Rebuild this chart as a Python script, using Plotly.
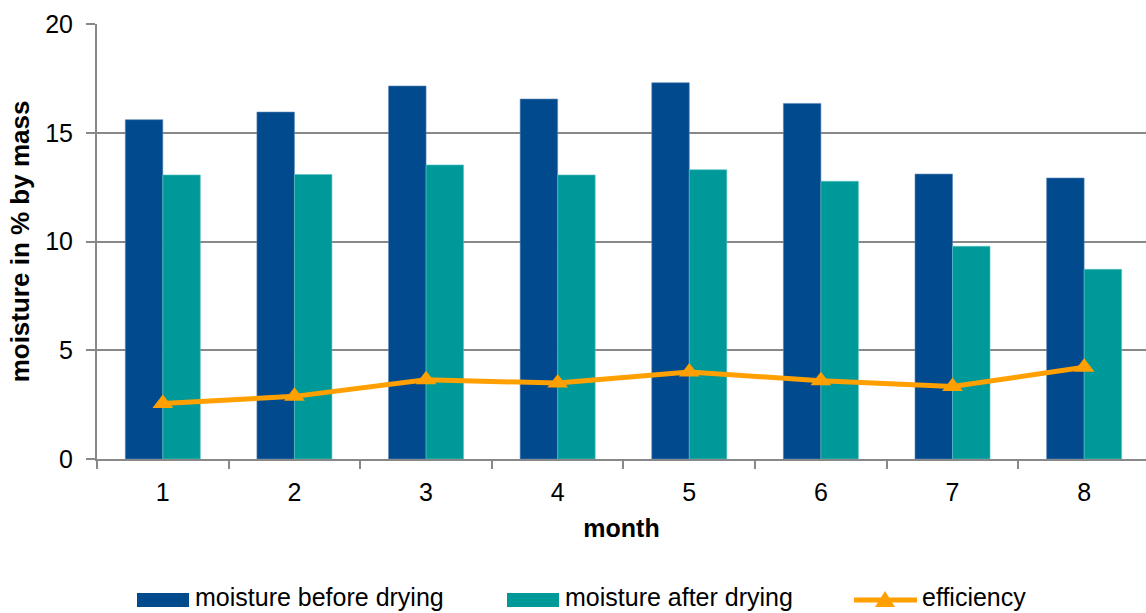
import plotly.graph_objects as go

months = ["1", "2", "3", "4", "5", "6", "7", "8"]
moisture_before = [15.6, 15.95, 17.15, 16.55, 17.3, 16.35, 13.1, 12.92]
moisture_after = [13.06, 13.08, 13.52, 13.06, 13.3, 12.77, 9.78, 8.72]
efficiency = [2.55, 2.88, 3.64, 3.49, 4.0, 3.6, 3.33, 4.22]

BLUE = "#004A8D"
TEAL = "#009999"
ORANGE = "#FFA000"
GRID = "#888888"
FONT = "Liberation Sans, Arial, sans-serif"
FS = 25

W, H = 1146, 613
L, R, T, B = 97, 0, 24, 154

fig = go.Figure()
fig.add_trace(go.Bar(x=months, y=moisture_before, name="moisture before drying",
                     marker=dict(color=BLUE, line=dict(color="#5b86b8", width=0.6))))
fig.add_trace(go.Bar(x=months, y=moisture_after, name="moisture after drying",
                     marker=dict(color=TEAL, line=dict(color="#5cc4c4", width=0.6))))
fig.add_trace(go.Scatter(x=months, y=efficiency, name="efficiency", mode="lines+markers",
                         line=dict(color=ORANGE, width=5),
                         marker=dict(symbol="triangle-up", size=18, color=ORANGE)))

fig.update_layout(
    width=W, height=H,
    margin=dict(l=L, r=R, t=T, b=B, pad=0),
    paper_bgcolor="white", plot_bgcolor="white",
    barmode="group", bargap=0.43, bargroupgap=0,
    showlegend=False,
    font=dict(family=FONT, size=FS, color="#000000"),
)

fig.update_xaxes(
    type="category", range=[-0.5, 7.47],
    showline=True, linecolor=GRID, linewidth=2,
    ticks="outside", tickson="boundaries", ticklen=8, tickwidth=2, tickcolor=GRID,
    ticklabelstandoff=10,
    showgrid=False,
    tickfont=dict(size=FS),
    title=dict(text="<b>month</b>", font=dict(size=FS), standoff=14),
)
fig.update_yaxes(
    range=[0, 20], tickvals=[0, 5, 10, 15, 20],
    showline=True, linecolor=GRID, linewidth=2,
    ticks="outside", ticklen=9, tickwidth=2, tickcolor=GRID,
    ticklabelstandoff=8,
    showgrid=True, gridcolor=GRID, gridwidth=2,
    zeroline=False,
    tickfont=dict(size=FS),
    title=dict(text="<b>moisture in % by mass</b>", font=dict(size=26), standoff=8),
)

# hand-built legend row below the chart
pw = W - L - R
ph = H - T - B


def px_x(px):
    return (px - L) / pw


def px_y(py):
    return (H - B - py) / ph


legend_y = 600
shapes = [
    dict(type="rect", xref="paper", yref="paper",
         x0=px_x(137), x1=px_x(189), y0=px_y(607), y1=px_y(593),
         fillcolor=BLUE, line=dict(width=0)),
    dict(type="rect", xref="paper", yref="paper",
         x0=px_x(507), x1=px_x(559), y0=px_y(607), y1=px_y(593),
         fillcolor=TEAL, line=dict(width=0)),
    dict(type="line", xref="paper", yref="paper",
         x0=px_x(854), x1=px_x(917), y0=px_y(legend_y), y1=px_y(legend_y),
         line=dict(color=ORANGE, width=5)),
    dict(type="path", xref="paper", yref="paper",
         path="M {} {} L {} {} L {} {} Z".format(
             px_x(875), px_y(607), px_x(895), px_y(607), px_x(885), px_y(591)),
         fillcolor=ORANGE, line=dict(width=0)),
]
labels = [(194, "moisture before drying"), (564, "moisture after drying"), (921, "efficiency")]
annotations = [
    dict(xref="paper", yref="paper", x=px_x(x), y=px_y(597), text=t,
         showarrow=False, xanchor="left", yanchor="middle", borderpad=0,
         font=dict(size=25, family=FONT, color="#000000"))
    for x, t in labels
]
fig.update_layout(shapes=shapes, annotations=annotations)

fig.write_html("out.html")
